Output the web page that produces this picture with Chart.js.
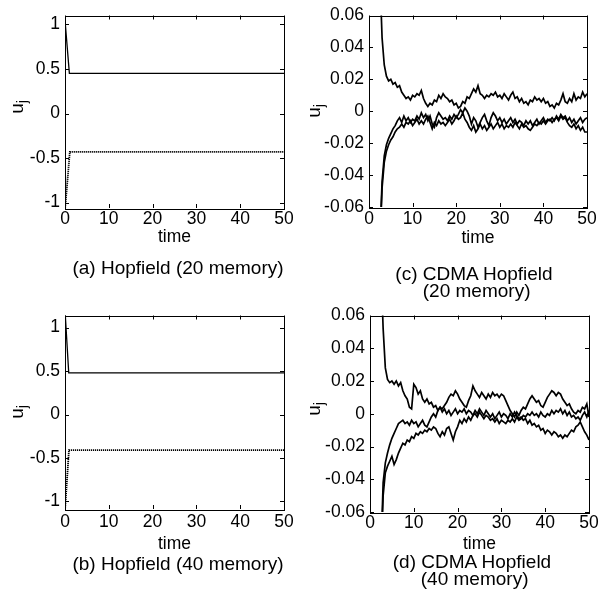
<!DOCTYPE html>
<html>
<head>
<meta charset="utf-8">
<script src="https://cdn.jsdelivr.net/npm/chart.js@4"></script>
<style>
  body { margin: 0; background: #fff; }
  #page { position: relative; width: 616px; height: 599px; overflow: hidden; background: #fff;
          font-family: "Liberation Sans", Arial, sans-serif; color: #000; }
  canvas { position: absolute; }
  .cap { position: absolute; width: 300px; text-align: center; font-size: 19px; line-height: 17px; white-space: pre; }
  .ylab { position: absolute; font-size: 19px; line-height: 19px; transform: translate(-50%, -50%) rotate(-90deg); white-space: nowrap; }
  .ylab sub { font-size: 14px; vertical-align: -4px; }
</style>
</head>
<body>
<div id="page">
  <canvas id="chartA" width="300" height="255" style="left:0;top:0"></canvas>
  <canvas id="chartB" width="300" height="255" style="left:0;top:300px"></canvas>
  <canvas id="chartC" width="300" height="255" style="left:300px;top:0"></canvas>
  <canvas id="chartD" width="316" height="255" style="left:300px;top:300px"></canvas>

  <div class="ylab" style="left:19px;top:107px">u<sub>j</sub></div>
  <div class="ylab" style="left:19px;top:412px">u<sub>j</sub></div>
  <div class="ylab" style="left:316px;top:111px">u<sub>j</sub></div>
  <div class="ylab" style="left:316px;top:409px">u<sub>j</sub></div>

  <div class="cap" style="left:28px;top:259px">(a) Hopfield (20 memory)</div>
  <div class="cap" style="left:28px;top:555px">(b) Hopfield (40 memory)</div>
  <div class="cap" style="left:324px;top:265px">(c) CDMA Hopfield
 (20 memory)</div>
  <div class="cap" style="left:322px;top:553px">(d) CDMA Hopfield
 (40 memory)</div>
</div>

<script>
// axis ticks
const timeTicks = [0, 10, 20, 30, 40, 50];
const hopTicks = [-1, -0.5, 0, 0.5, 1];
const hopTickLabels = ['-1', '-0.5', '0', '0.5', '1'];
const cdmaTicks = [-0.06, -0.04, -0.02, 0, 0.02, 0.04, 0.06];
const cdmaTickLabels = ['-0.06', '-0.04', '-0.02', '0', '0.02', '0.04', '0.06'];

// (a) Hopfield, 20 memory
const hopAUpTime = [0, 1.0, 50];
const hopAUp = [1.05, 0.45, 0.45];
const hopALowTime = [0, 1.1, 50];
const hopALow = [-1.08, -0.43, -0.43];

// (b) Hopfield, 40 memory
const hopBUpTime = [0, 0.85, 50];
const hopBUp = [1.2, 0.48, 0.48];
const hopBLowTime = [0, 0.9, 50];
const hopBLow = [-1.1, -0.41, -0.41];

// time samples for the CDMA runs
const cdmaTime = [
  2.5, 3, 3.5, 4, 4.5, 5, 5.5, 6, 6.5, 7,
  7.5, 8, 8.5, 9, 9.5, 10, 10.5, 11, 11.5, 12,
  12.5, 13, 13.5, 14, 14.5, 15, 15.5, 16, 16.5, 17,
  17.5, 18, 18.5, 19, 19.5, 20, 20.5, 21, 21.5, 22,
  22.5, 23, 23.5, 24, 24.5, 25, 25.5, 26, 26.5, 27,
  27.5, 28, 28.5, 29, 29.5, 30, 30.5, 31, 31.5, 32,
  32.5, 33, 33.5, 34, 34.5, 35, 35.5, 36, 36.5, 37,
  37.5, 38, 38.5, 39, 39.5, 40, 40.5, 41, 41.5, 42,
  42.5, 43, 43.5, 44, 44.5, 45, 45.5, 46, 46.5, 47,
  47.5, 48, 48.5, 49, 49.5, 50
];

// (c) CDMA Hopfield, 20 memory
const cdmaC1 = [
  0.085, 0.046, 0.029, 0.022, 0.019, 0.020, 0.017, 0.018, 0.015, 0.016,
  0.012, 0.010, 0.008, 0.009, 0.007, 0.010, 0.009, 0.011, 0.010, 0.013,
  0.008, 0.005, 0.003, 0.005, 0.004, 0.007, 0.006, 0.010, 0.008, 0.011,
  0.009, 0.008, 0.006, 0.007, 0.004, 0.005, 0.002, 0.003, 0.006, 0.005,
  0.009, 0.008, 0.011, 0.014, 0.012, 0.016, 0.011, 0.010, 0.008, 0.010,
  0.009, 0.011, 0.010, 0.012, 0.009, 0.010, 0.008, 0.011, 0.009, 0.007,
  0.010, 0.012, 0.008, 0.009, 0.006, 0.008, 0.005, 0.006, 0.004, 0.007,
  0.006, 0.009, 0.007, 0.008, 0.006, 0.008, 0.005, 0.006, 0.003, 0.004,
  0.002, 0.005, 0.004, 0.007, 0.011, 0.006, 0.005, 0.008, 0.006, 0.011,
  0.007, 0.009, 0.008, 0.012, 0.009, 0.011
];
const cdmaC2 = [
  -0.080, -0.044, -0.028, -0.021, -0.017, -0.014, -0.011, -0.009, -0.006, -0.004,
  -0.007, -0.003, -0.006, -0.004, -0.007, -0.005, -0.006, -0.003, -0.005, -0.001,
  -0.004, -0.002, -0.006, -0.003, -0.008, -0.010, -0.004, -0.001, -0.003, -0.005,
  -0.004, -0.006, -0.003, -0.005, -0.002, -0.004, -0.002, 0.001, -0.001, 0.002,
  0.000, -0.003, -0.008, -0.004, -0.006, -0.010, -0.007, -0.004, -0.002, -0.006,
  -0.009, -0.004, -0.001, -0.003, -0.006, -0.004, -0.007, -0.005, -0.008, -0.006,
  -0.004, -0.007, -0.005, -0.008, -0.006, -0.007, -0.009, -0.006, -0.008, -0.006,
  -0.009, -0.007, -0.005, -0.008, -0.006, -0.004, -0.007, -0.005, -0.006, -0.004,
  -0.006, -0.003, -0.005, -0.002, -0.004, -0.003, -0.006, -0.004, -0.007, -0.005,
  -0.008, -0.006, -0.004, -0.007, -0.005, -0.004
];
const cdmaC3 = [
  -0.085, -0.048, -0.032, -0.025, -0.021, -0.018, -0.016, -0.013, -0.011, -0.010,
  -0.008, -0.010, -0.007, -0.008, -0.006, -0.009, -0.007, -0.005, -0.008, -0.006,
  -0.008, -0.005, -0.003, -0.007, -0.011, -0.007, -0.009, -0.006, -0.008, -0.007,
  -0.009, -0.007, -0.005, -0.008, -0.006, -0.003, -0.005, -0.004, -0.001, -0.005,
  -0.007, -0.010, -0.012, -0.009, -0.013, -0.011, -0.008, -0.011, -0.009, -0.012,
  -0.010, -0.008, -0.011, -0.009, -0.007, -0.010, -0.008, -0.011, -0.009, -0.010,
  -0.008, -0.010, -0.007, -0.009, -0.011, -0.008, -0.010, -0.009, -0.011, -0.012,
  -0.010, -0.008, -0.009, -0.007, -0.008, -0.006, -0.008, -0.006, -0.005, -0.007,
  -0.005, -0.004, -0.006, -0.003, -0.005, -0.004, -0.007, -0.009, -0.010, -0.008,
  -0.011, -0.009, -0.012, -0.010, -0.013, -0.013
];

// (d) CDMA Hopfield, 40 memory
const cdmaD1 = [
  0.090, 0.052, 0.028, 0.021, 0.019, 0.020, 0.018, 0.020, 0.017, 0.019,
  0.014, 0.011, 0.009, 0.004, 0.003, 0.018, 0.016, 0.012, 0.014, 0.009,
  0.007, 0.009, 0.006, 0.007, 0.004, 0.005, 0.002, 0.004, 0.001, 0.003,
  0.000, 0.002, -0.001, 0.001, 0.003, 0.000, 0.002, 0.001, 0.003, 0.000,
  0.002, 0.001, -0.001, 0.002, 0.000, 0.003, 0.001, -0.001, 0.002, 0.000,
  -0.002, 0.000, -0.003, -0.001, 0.001, -0.002, 0.000, -0.001, -0.003, 0.000,
  -0.002, 0.001, -0.001, -0.003, -0.002, -0.004, -0.003, -0.006, -0.004, -0.007,
  -0.006, -0.008, -0.007, -0.010, -0.009, -0.012, -0.010, -0.011, -0.013, -0.011,
  -0.012, -0.014, -0.013, -0.015, -0.013, -0.014, -0.012, -0.010, -0.011, -0.008,
  -0.007, -0.005, -0.008, -0.011, -0.013, -0.016
];
const cdmaD2 = [
  -0.085, -0.042, -0.030, -0.024, -0.019, -0.015, -0.012, -0.009, -0.006, -0.005,
  -0.004, -0.006, -0.005, -0.007, -0.004, -0.006, -0.005, -0.008, -0.006, -0.004,
  -0.007, -0.008, -0.005, -0.002, 0.000, -0.002, 0.002, 0.004, 0.003, 0.005,
  0.007, 0.010, 0.012, 0.011, 0.014, 0.012, 0.009, 0.007, 0.005, 0.004,
  0.008, 0.011, 0.017, 0.014, 0.012, 0.010, 0.013, 0.011, 0.009, 0.012,
  0.010, 0.013, 0.011, 0.012, 0.010, 0.012, 0.011, 0.008, 0.005, 0.002,
  0.000, -0.002, 0.001, -0.001, 0.002, 0.004, 0.003, 0.006, 0.009, 0.011,
  0.009, 0.007, 0.008, 0.005, 0.004, 0.007, 0.010, 0.012, 0.014, 0.013,
  0.011, 0.013, 0.012, 0.009, 0.007, 0.005, 0.006, 0.003, 0.001, 0.000,
  0.002, 0.001, 0.004, 0.003, 0.006, -0.002
];
const cdmaD3 = [
  -0.090, -0.050, -0.036, -0.032, -0.029, -0.026, -0.031, -0.028, -0.024, -0.021,
  -0.018, -0.019, -0.016, -0.017, -0.014, -0.015, -0.012, -0.013, -0.011, -0.012,
  -0.010, -0.011, -0.009, -0.010, -0.008, -0.009, -0.012, -0.014, -0.011, -0.013,
  -0.009, -0.008, -0.012, -0.016, -0.011, -0.008, -0.004, -0.006, -0.003, -0.005,
  -0.002, -0.004, -0.001, 0.000, -0.002, 0.001, -0.001, -0.003, -0.001, -0.002,
  -0.004, -0.003, -0.005, -0.003, -0.006, -0.004, -0.005, -0.006, -0.004, -0.005,
  -0.003, -0.005, -0.002, -0.004, -0.003, -0.001, -0.002, 0.000, -0.001, 0.001,
  -0.001, 0.000, -0.002, 0.001, -0.001, -0.002, 0.000, -0.001, 0.002, 0.000,
  0.002, 0.001, 0.003, 0.000, 0.002, -0.001, 0.001, -0.002, -0.001, -0.003,
  -0.002, -0.004, -0.001, 0.001, -0.002, 0.002
];

Chart.defaults.font.family = '"Liberation Sans", Arial, sans-serif';
Chart.defaults.color = '#000';

function pts(xs, ys) {
  return xs.map((x, i) => ({ x: x, y: ys[i] }));
}

function solid(xs, ys, w) {
  return { data: pts(xs, ys), borderColor: '#000', borderWidth: w || 1.3, pointRadius: 0, tension: 0 };
}

function dotted(xs, ys) {
  return { data: pts(xs, ys), borderColor: '#000', borderWidth: 1.8, borderDash: [1.2, 0.8], pointRadius: 0, tension: 0 };
}

// box round the plot with short ticks pointing inwards, matlab style
const framePlugin = {
  id: 'frame',
  afterDatasetsDraw(chart) {
    const { ctx, chartArea: a, scales } = chart;
    ctx.save();
    ctx.strokeStyle = '#000';
    ctx.lineWidth = 1;
    ctx.strokeRect(Math.round(a.left) + 0.5, Math.round(a.top) + 0.5,
      Math.round(a.right - a.left), Math.round(a.bottom - a.top));
    ctx.beginPath();
    scales.x.ticks.forEach(t => {
      const px = Math.round(scales.x.getPixelForValue(t.value)) + 0.5;
      ctx.moveTo(px, a.bottom); ctx.lineTo(px, a.bottom - 4);
      ctx.moveTo(px, a.top); ctx.lineTo(px, a.top + 4);
    });
    scales.y.ticks.forEach(t => {
      const py = Math.round(scales.y.getPixelForValue(t.value)) + 0.5;
      ctx.moveTo(a.left, py); ctx.lineTo(a.left + 4, py);
      ctx.moveTo(a.right, py); ctx.lineTo(a.right - 4, py);
    });
    ctx.stroke();
    ctx.restore();
  }
};

function makePanel(id, g, yMin, yMax, yTicks, yLabels, datasets) {
  return new Chart(document.getElementById(id), {
    type: 'line',
    data: { datasets: datasets },
    options: {
      responsive: false,
      animation: false,
      devicePixelRatio: 1,
      layout: { padding: { top: g.padTop, right: g.padRight, bottom: 0, left: 0 } },
      plugins: { legend: { display: false }, tooltip: { enabled: false } },
      scales: {
        x: {
          type: 'linear', min: 0, max: 50,
          grid: { display: false, drawTicks: false },
          border: { display: false },
          ticks: { padding: g.xTickPad, font: { size: 17.5 }, maxRotation: 0, autoSkip: false },
          afterBuildTicks: ax => { ax.ticks = timeTicks.map(v => ({ value: v })); },
          afterFit: ax => { ax.height = g.xHeight; },
          title: { display: true, text: 'time', font: { size: 17.5 }, padding: { top: 0, bottom: g.titlePad } }
        },
        y: {
          type: 'linear', min: yMin, max: yMax,
          grid: { display: false, drawTicks: false },
          border: { display: false },
          ticks: { padding: 5, font: { size: 17.5 }, autoSkip: false,
                   callback: (v, i) => yLabels[i] },
          afterBuildTicks: ax => { ax.ticks = yTicks.map(v => ({ value: v })); },
          afterFit: ax => { ax.width = g.yWidth; }
        }
      }
    },
    plugins: [framePlugin]
  });
}

makePanel('chartA', { padTop: 9, padRight: 16, yWidth: 65, xHeight: 47, xTickPad: 1, titlePad: 7 },
  -1.06, 1.1, hopTicks, hopTickLabels,
  [solid(hopAUpTime, hopAUp), dotted(hopALowTime, hopALow)]);

makePanel('chartB', { padTop: 10, padRight: 16, yWidth: 65, xHeight: 46, xTickPad: 3, titlePad: 0 },
  -1.087, 1.14, hopTicks, hopTickLabels,
  [solid(hopBUpTime, hopBUp), dotted(hopBLowTime, hopBLow)]);

makePanel('chartC', { padTop: 9, padRight: 13, yWidth: 69, xHeight: 48, xTickPad: 1.5, titlePad: 6 },
  -0.06, 0.06, cdmaTicks, cdmaTickLabels,
  [solid(cdmaTime, cdmaC1, 1.7), solid(cdmaTime, cdmaC2, 1.7), solid(cdmaTime, cdmaC3, 1.7)]);

makePanel('chartD', { padTop: 11, padRight: 27, yWidth: 70, xHeight: 43, xTickPad: 1, titlePad: 0 },
  -0.06, 0.06, cdmaTicks, cdmaTickLabels,
  [solid(cdmaTime, cdmaD1, 1.7), solid(cdmaTime, cdmaD2, 1.7), solid(cdmaTime, cdmaD3, 1.7)]);
</script>
</body>
</html>
